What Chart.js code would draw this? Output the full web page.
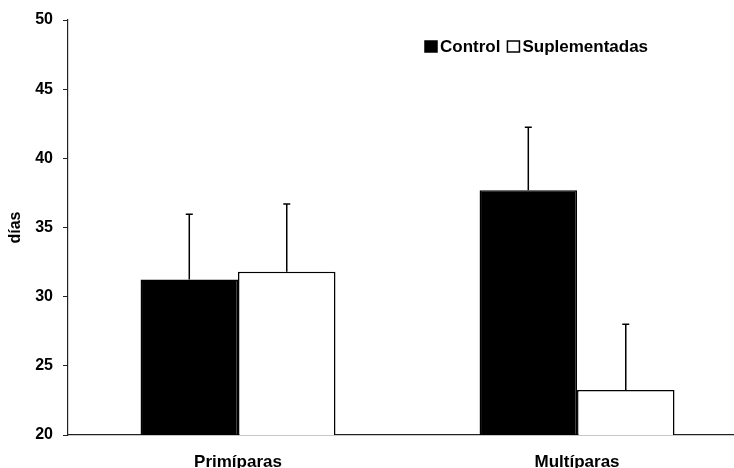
<!DOCTYPE html>
<html>
<head>
<meta charset="utf-8">
<script src="https://cdn.jsdelivr.net/npm/chart.js@4/dist/chart.umd.min.js"></script>
<style>
  html, body { margin: 0; padding: 0; background: #fff; }
  #wrap { width: 734px; height: 468px; position: relative; }
</style>
</head>
<body>
<div id="wrap"><canvas id="c" width="734" height="468"></canvas></div>
<script>
// ---- data ----
const categories = ['Primíparas', 'Multíparas'];
const seriesNames = ['Control', 'Suplementadas'];
const controlValues = [31.25, 37.7];
const controlErrors = [4.7, 4.55];
const suplementadasValues = [31.8, 23.25];
const suplementadasErrors = [4.9, 4.75];
const yTicks = [20, 25, 30, 35, 40, 45, 50];
const yTitle = 'días';

const FONT = "'Liberation Sans', Arial, sans-serif";

const errorBarPlugin = {
  id: 'errorBars',
  afterDatasetsDraw(chart) {
    const ctx = chart.ctx;
    const yScale = chart.scales.y;
    chart.data.datasets.forEach((ds, di) => {
      const meta = chart.getDatasetMeta(di);
      meta.data.forEach((bar, i) => {
        const v = ds.data[i].y;
        const e = ds.errors[i];
        const yTop = yScale.getPixelForValue(v + e);
        const yBase = yScale.getPixelForValue(v);
        ctx.save();
        ctx.strokeStyle = '#000';
        ctx.lineWidth = 1.5;
        ctx.beginPath();
        ctx.moveTo(bar.x, yBase);
        ctx.lineTo(bar.x, yTop);
        ctx.moveTo(bar.x - 3.5, yTop);
        ctx.lineTo(bar.x + 3.5, yTop);
        ctx.stroke();
        ctx.restore();
      });
    });
  }
};

const legendPlugin = {
  id: 'customLegend',
  afterDraw(chart) {
    const ctx = chart.ctx;
    ctx.save();
    ctx.font = 'bold 17px ' + FONT;
    ctx.textBaseline = 'middle';
    ctx.textAlign = 'left';
    let x = 425;
    const yc = 46.5;
    chart.data.datasets.forEach((ds) => {
      ctx.fillStyle = ds.backgroundColor;
      ctx.strokeStyle = '#000';
      ctx.lineWidth = 1.5;
      ctx.fillRect(x, yc - 5.5, 12, 11);
      ctx.strokeRect(x, yc - 5.5, 12, 11);
      x += 15;
      ctx.fillStyle = '#000';
      ctx.fillText(ds.label, x, yc + 1);
      x += ctx.measureText(ds.label).width + 7;
    });
    ctx.restore();
  }
};

new Chart(document.getElementById('c'), {
  type: 'bar',
  data: {
    datasets: [
      {
        label: seriesNames[0],
        data: categories.map((c, i) => ({ x: i, y: controlValues[i] })),
        errors: controlErrors,
        backgroundColor: '#000000',
        borderColor: '#000000',
        borderWidth: 1.5
      },
      {
        label: seriesNames[1],
        data: categories.map((c, i) => ({ x: i, y: suplementadasValues[i] })),
        errors: suplementadasErrors,
        backgroundColor: '#ffffff',
        borderColor: '#000000',
        borderWidth: 1.5
      }
    ]
  },
  options: {
    responsive: false,
    animation: false,
    devicePixelRatio: 1,
    layout: { padding: { top: 20, right: 0, bottom: 0, left: 0 } },
    categoryPercentage: 0.575,
    barPercentage: 1.0,
    plugins: {
      legend: { display: false },
      tooltip: { enabled: false }
    },
    scales: {
      x: {
        type: 'linear',
        offset: false,
        min: -0.5015,
        max: 1.463,
        afterBuildTicks(s) { s.ticks = categories.map((c, i) => ({ value: i })); },
        afterFit(s) { s.height = 33; },
        grid: { display: false, drawTicks: false },
        border: { display: true, color: '#222', width: 1.2 },
        ticks: {
          autoSkip: false,
          maxRotation: 0,
          padding: 17,
          color: '#000',
          font: { family: FONT, size: 17, weight: 'bold' },
          callback(v) { return categories[v] !== undefined ? categories[v] : ''; }
        }
      },
      y: {
        min: yTicks[0],
        max: yTicks[yTicks.length - 1],
        afterBuildTicks(s) { s.ticks = yTicks.map(v => ({ value: v })); },
        afterFit(s) { s.width = 68; },
        grid: { drawOnChartArea: false, drawTicks: true, tickLength: 5, color: '#222', lineWidth: 1 },
        border: { display: true, color: '#222', width: 1.2 },
        ticks: {
          padding: 10,
          color: '#000',
          font: { family: FONT, size: 16, weight: 'bold' }
        },
        title: {
          display: true,
          text: yTitle,
          color: '#000',
          font: { family: FONT, size: 16, weight: 'bold' },
          padding: { top: 6, bottom: 0 }
        }
      }
    }
  },
  plugins: [errorBarPlugin, legendPlugin]
});
</script>
</body>
</html>
